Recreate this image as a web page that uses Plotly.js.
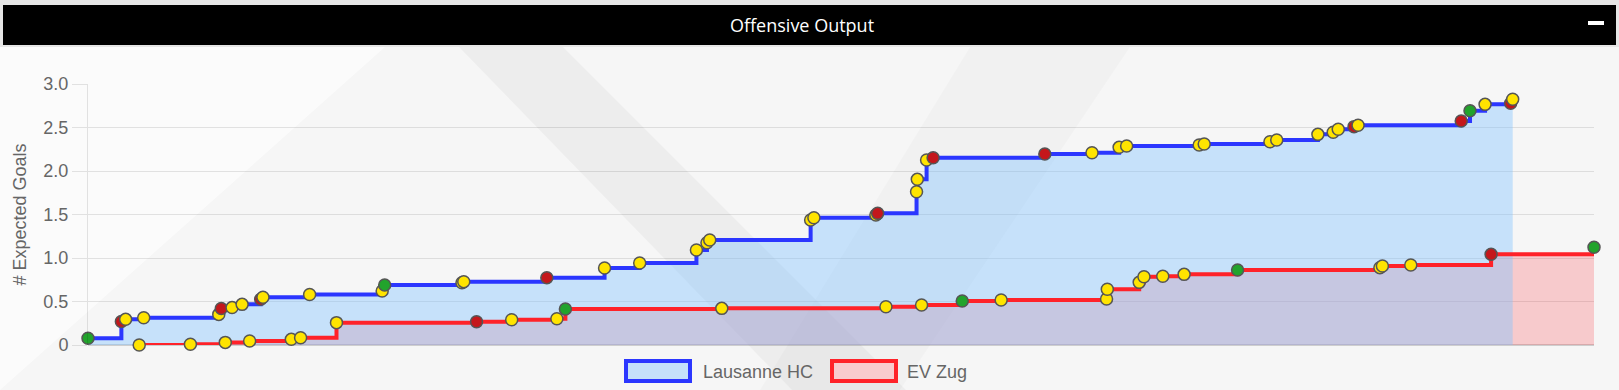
<!DOCTYPE html>
<html>
<head>
<meta charset="utf-8">
<script src="https://cdn.plot.ly/plotly-3.0.1.min.js"></script>
<style>
  html, body { margin: 0; padding: 0; background: #f6f6f6; overflow: hidden; }
  #chart { width: 1619px; height: 390px; }
</style>
</head>
<body>
<div id="chart"></div>
<script>
// ---------------- DATA ----------------
const chartTitle = "Offensive Output";
const yTitle = "# Expected Goals";
const seriesNames = ["Lausanne HC", "EV Zug"];
const yTickVals = [0, 0.5, 1, 1.5, 2, 2.5, 3];
const yTickText = ["0", "0.5", "1.0", "1.5", "2.0", "2.5", "3.0"];

// game time (minutes) / cumulative xG / event kind (S = shot, R = red event, G = goal)
const lausTime = [0.00, 1.33, 1.50, 2.22, 5.21, 5.31, 5.74, 6.14, 6.88, 6.97, 8.83, 11.72, 11.82,
  14.90, 14.97, 18.28, 20.58, 21.98, 24.24, 24.66, 24.77, 28.79, 28.92, 31.39, 31.46, 33.01, 33.04,
  33.41, 33.67, 38.12, 40.00, 41.08, 41.38, 44.27, 44.47, 47.09, 47.36, 49.00, 49.61, 49.81, 50.44,
  50.60, 54.71, 55.06, 55.66, 56.68, 56.76];
const lausXG = [0.077, 0.270, 0.295, 0.314, 0.352, 0.420, 0.430, 0.467, 0.525, 0.548, 0.580, 0.620, 0.690,
  0.715, 0.728, 0.774, 0.885, 0.942, 1.092, 1.176, 1.207, 1.437, 1.463, 1.494, 1.513, 1.762, 1.904,
  2.126, 2.153, 2.195, 2.210, 2.272, 2.287, 2.299, 2.310, 2.337, 2.356, 2.421, 2.445, 2.479, 2.510,
  2.525, 2.575, 2.693, 2.766, 2.778, 2.824];
const lausKind = ["G", "R", "S", "S", "S", "R", "S", "S", "R", "S", "S", "S", "G",
  "S", "S", "R", "S", "S", "S", "S", "S", "S", "S", "S", "R", "S", "S",
  "S", "R", "R", "S", "S", "S", "S", "S", "S", "S", "S", "S", "S", "R",
  "S", "R", "G", "S", "R", "S"];

const zugTime = [2.04, 4.08, 5.47, 6.44, 8.10, 8.47, 9.90, 15.48, 16.88, 18.68, 19.02, 25.25, 31.79,
  33.21, 34.83, 36.38, 40.58, 40.61, 41.88, 42.07, 42.82, 43.67, 45.80, 51.47, 51.57, 52.70, 55.90, 60.00];
const zugXG = [0.000, 0.008, 0.030, 0.046, 0.065, 0.084, 0.257, 0.268, 0.291, 0.302, 0.414, 0.421, 0.440,
  0.460, 0.506, 0.517, 0.529, 0.640, 0.720, 0.785, 0.790, 0.812, 0.862, 0.889, 0.908, 0.920, 1.042, 1.123];
const zugKind = ["S", "S", "S", "S", "S", "S", "S", "R", "S", "S", "G", "S", "S",
  "S", "G", "S", "S", "S", "S", "S", "S", "S", "G", "S", "S", "S", "R", "G"];

// ---------------- STYLE ----------------
const W = 1619, H = 390;
const M = { l: 88, r: 25, t: 84, b: 45 };
const PW = W - M.l - M.r, PH = H - M.t - M.b;
const kindColor = { S: "#ffe400", R: "#c4171b", G: "#22a32c" };
const blueLine = "#2b36ff", redLine = "#ff2229";
const blueFill = "rgba(130,195,255,0.42)", redFill = "rgba(255,30,40,0.2)";
const grey = "#666666";
const FONT = "Liberation Sans, Arial, Helvetica, sans-serif";

// pixel -> paper helpers
const px = x => (x - M.l) / PW;
const py = y => (H - M.b - y) / PH;
const poly = pts => "M" + pts.map(p => px(p[0]).toFixed(5) + "," + py(p[1]).toFixed(5)).join(" L") + " Z";
const rect = (x0, y0, x1, y1, fill, layer, line) => ({
  type: "rect", xref: "paper", yref: "paper", layer: layer || "below",
  x0: px(x0), x1: px(x1), y0: py(y1), y1: py(y0),
  fillcolor: fill, line: line || { width: 0 }
});

function fillTrace(x, y, color) {
  return { x, y, type: "scatter", mode: "lines", line: { shape: "hv", width: 0, color: "rgba(0,0,0,0)" },
    fill: "tozeroy", fillcolor: color, hoverinfo: "skip", showlegend: false };
}
function lineTrace(x, y, kinds, color, name) {
  return { x, y, name, type: "scatter", mode: "lines+markers", cliponaxis: false,
    line: { shape: "hv", width: 4, color },
    marker: { size: 12, color: kinds.map(k => kindColor[k]), line: { color: "#555", width: 1.5 } },
    showlegend: false };
}

const data = [
  fillTrace(zugTime, zugXG, redFill),
  fillTrace(lausTime, lausXG, blueFill),
  lineTrace(zugTime, zugXG, zugKind, redLine, seriesNames[1]),
  lineTrace(lausTime, lausXG, lausKind, blueLine, seriesNames[0])
];

const shapes = [
  // decorative background
  { type: "path", xref: "paper", yref: "paper", layer: "below", path: poly([[0, 47], [385, 47], [0, 390]]),
    fillcolor: "rgba(255,255,255,0.6)", line: { width: 0 } },
  { type: "path", xref: "paper", yref: "paper", layer: "below", path: poly([[459, 47], [563, 47], [906, 390], [792, 390]]),
    fillcolor: "rgba(0,0,0,0.035)", line: { width: 0 } },
  { type: "path", xref: "paper", yref: "paper", layer: "below", path: poly([[970, 47], [1130, 47], [900, 390], [760, 390]]),
    fillcolor: "rgba(0,0,0,0.02)", line: { width: 0 } },
  // header bar
  rect(0, 0, W, 47, "#e6e6e6", "above"),
  rect(3, 5, W - 3, 45, "#000000", "above"),
  rect(1588, 21, 1604, 25, "#ffffff", "above"),
  // legend boxes
  rect(626, 361, 690, 381, "rgba(197,225,250,1)", "above", { color: blueLine, width: 4 }),
  rect(832, 361, 896, 381, "rgba(249,203,206,1)", "above", { color: redLine, width: 4 })
];

const annotations = [
  { xref: "paper", yref: "paper", x: px(802), y: py(25), xanchor: "center", yanchor: "middle", showarrow: false,
    text: chartTitle, font: { family: "Open Sans, sans-serif", size: 18, weight: 400, color: "#ffffff" } },
  { xref: "paper", yref: "paper", x: px(701), y: py(371.5), xanchor: "left", yanchor: "middle", showarrow: false,
    text: seriesNames[0], font: { family: FONT, size: 18, color: grey } },
  { xref: "paper", yref: "paper", x: px(905), y: py(371.5), xanchor: "left", yanchor: "middle", showarrow: false,
    text: seriesNames[1], font: { family: FONT, size: 18, color: grey } }
];

const layout = {
  width: W, height: H,
  margin: { l: M.l, r: M.r, t: M.t, b: M.b, pad: 0 },
  paper_bgcolor: "#f6f6f6", plot_bgcolor: "rgba(0,0,0,0)",
  showlegend: false,
  font: { family: FONT, color: grey },
  xaxis: { range: [0, 60], showgrid: false, zeroline: false, showticklabels: false, showline: false, fixedrange: true },
  yaxis: {
    range: [0, 3], tickmode: "array", tickvals: yTickVals, ticktext: yTickText,
    tickfont: { family: FONT, size: 18, color: grey },
    ticks: "outside", ticklen: 15, tickwidth: 1, tickcolor: "rgba(0,0,0,0.1)",
    gridcolor: "rgba(0,0,0,0.1)", gridwidth: 1,
    zeroline: true, zerolinecolor: "rgba(0,0,0,0.16)", zerolinewidth: 1.5,
    showline: true, linecolor: "rgba(0,0,0,0.1)", linewidth: 1,
    title: { text: yTitle, font: { family: FONT, size: 18, color: grey }, standoff: 12 },
    fixedrange: true
  },
  shapes, annotations
};

Plotly.newPlot("chart", data, layout, { displayModeBar: false, staticPlot: true });
</script>
</body>
</html>
